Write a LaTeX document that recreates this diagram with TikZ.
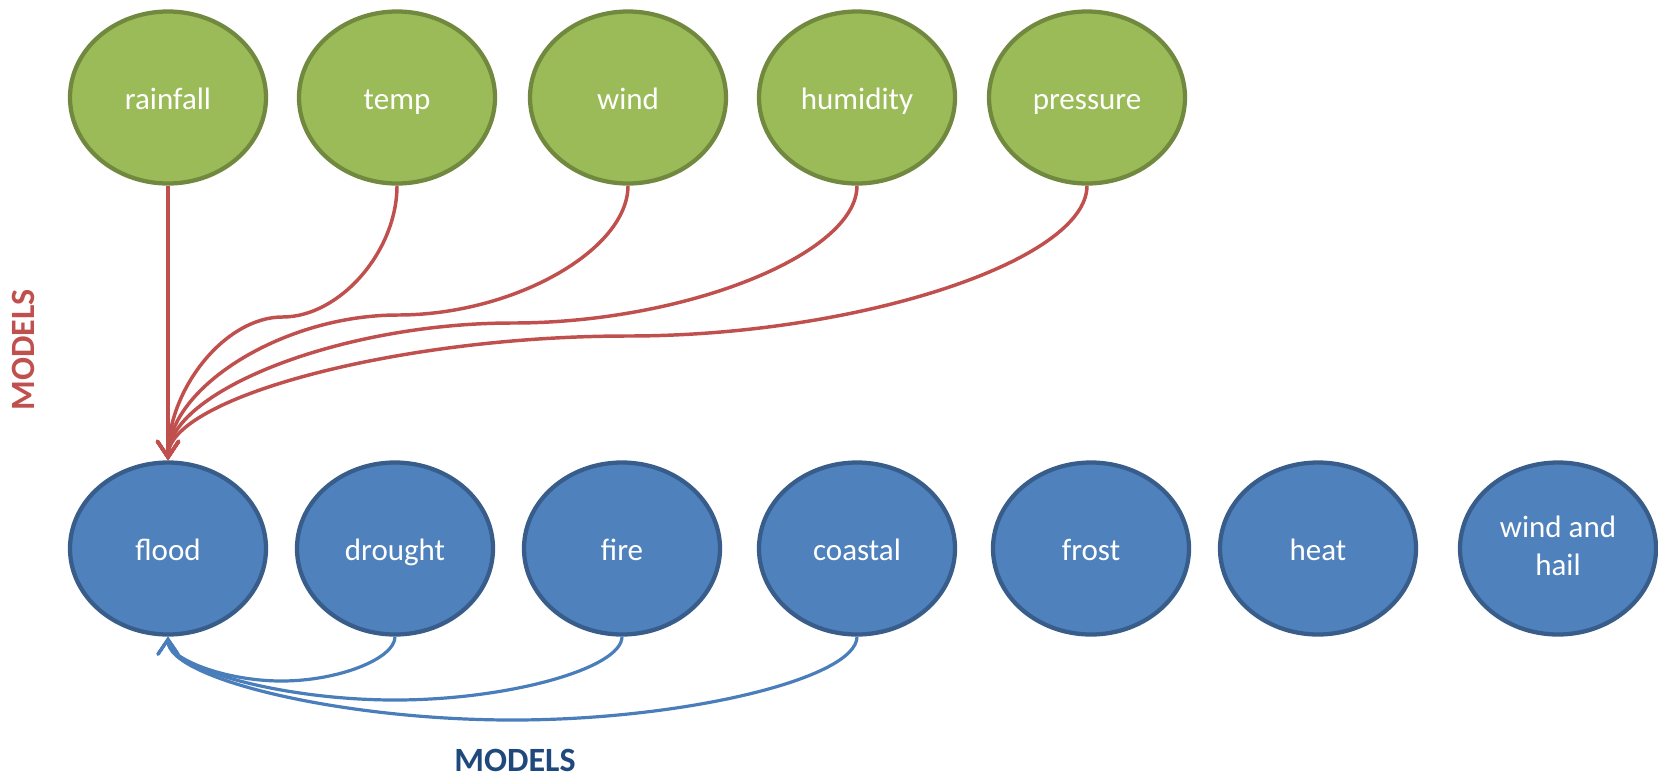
\documentclass[tikz,border=0pt]{standalone}
\usepackage{fontspec}
\setmainfont{Carlito}
\usetikzlibrary{arrows.meta,calc,shapes.geometric}
\definecolor{gfill}{HTML}{9BBB59}
\definecolor{gline}{HTML}{71893F}
\definecolor{bfill}{HTML}{4F81BD}
\definecolor{bline}{HTML}{385D8A}
\definecolor{rconn}{HTML}{C0504D}
\definecolor{bconn}{HTML}{4A7EBB}
\definecolor{dblue}{HTML}{1F497D}
\newcommand\curveconn[4]{%
  \draw[#1] let \p1=(#2), \p2=(#3), \p3=(0,#4) in
    (\p1) .. controls (\x1,{(\y1+\y3)/2}) and ({\x1+(\x2-\x1)/4},\y3) ..
    ({(\x1+\x2)/2},\y3) .. controls ({\x1+3*(\x2-\x1)/4},\y3) and (\x2,{(\y3+\y2)/2}) .. (\p2);
}
\begin{document}
\begin{tikzpicture}[x=0.75pt,y=-0.75pt,
  blob/.style={ellipse, minimum width=147pt, minimum height=129pt, line width=3.2pt,
    inner sep=0pt, text=white, font=\fontsize{23.25}{28.5}\selectfont,
    text height=17.25pt, text depth=0pt},
  gblob/.style={blob, draw=gline, fill=gfill},
  bblob/.style={blob, draw=bline, fill=bfill},
  rc/.style={draw=rconn, line width=2.6pt, -{Straight Barb[length=12pt,width=16pt,line cap=round]}},
  bc/.style={draw=bconn, line width=2.4pt, -{Straight Barb[length=11pt,width=15pt,line cap=round]}},
  lbl/.style={font=\bfseries\fontsize{25.5}{30}\selectfont}]
\useasboundingbox (0,0) rectangle (1658,779);
% drivers
\node[gblob] (rainfall) at (168,97.5) {rainfall};
\node[gblob] (temp) at (397,97.5) {temp};
\node[gblob] (wind) at (628,97.5) {wind};
\node[gblob] (humidity) at (857,97.5) {humidity};
\node[gblob] (pressure) at (1087,97.5) {pressure};
% hazards
\node[bblob] (flood) at (168,548.5) {flood};
\node[bblob] (drought) at (395,548.5) {drought};
\node[bblob] (fire) at (622,548.5) {fire};
\node[bblob] (coastal) at (857,548.5) {coastal};
\node[bblob] (frost) at (1091,548.5) {frost};
\node[bblob] (heat) at (1318,548.5) {heat};
\node[bblob, text height=40.5pt] (windhail) at (1558,548.5)
  {\begin{tabular}[b]{@{}c@{}}wind and\\hail\end{tabular}};
% red connectors
\draw[rc] (rainfall.south) -- (flood.north);
\curveconn{rc}{temp.south}{flood.north}{317}
\curveconn{rc}{wind.south}{flood.north}{315}
\curveconn{rc}{humidity.south}{flood.north}{323}
\curveconn{rc}{pressure.south}{flood.north}{336}
% blue connectors
\curveconn{bc}{drought.south}{flood.south}{681}
\curveconn{bc}{fire.south}{flood.south}{700}
\curveconn{bc}{coastal.south}{flood.south}{720}
% labels
\node[lbl, text=rconn, rotate=90] (mleft) at (23,350) {MODELS};
\node[lbl, text=dblue] (mbottom) at (515,760) {MODELS};
\end{tikzpicture}
\end{document}
